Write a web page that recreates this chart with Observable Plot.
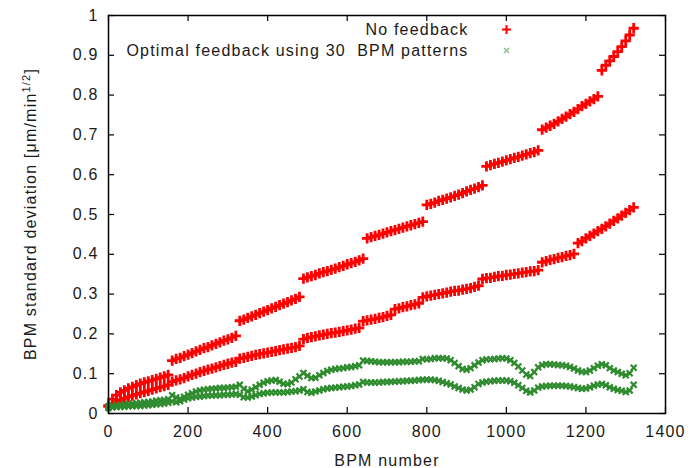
<!DOCTYPE html>
<html>
<head>
<meta charset="utf-8">
<script src="https://cdn.jsdelivr.net/npm/d3@7"></script>
<script src="https://cdn.jsdelivr.net/npm/@observablehq/plot@0.6"></script>
<style>
  body { margin: 0; background: #fff; }
</style>
</head>
<body>
<div id="chart"></div>
<script>
// BPM index along the line (one sample every 10 BPMs)
const bpm = d3.range(0, 1321, 10);

// Orbit standard deviation without feedback (two planes/cases)
const noFbHigh = [
  0.020,0.036,0.046,0.053,0.058,0.063,0.067,0.071,0.075,0.078,
  0.081,0.084,0.087,0.090,0.093,0.097,0.133,0.137,0.140,0.144,
  0.148,0.152,0.156,0.160,0.164,0.167,0.171,0.175,0.179,0.183,
  0.186,0.190,0.195,0.233,0.236,0.240,0.244,0.248,0.252,0.256,
  0.260,0.264,0.268,0.272,0.276,0.280,0.284,0.288,0.293,0.339,
  0.342,0.345,0.348,0.352,0.355,0.358,0.361,0.364,0.368,0.371,
  0.375,0.378,0.381,0.385,0.389,0.440,0.443,0.446,0.449,0.452,
  0.455,0.458,0.461,0.464,0.467,0.470,0.473,0.476,0.479,0.482,
  0.524,0.527,0.530,0.534,0.537,0.540,0.543,0.547,0.550,0.554,
  0.558,0.562,0.565,0.569,0.573,0.621,0.624,0.627,0.630,0.633,
  0.636,0.639,0.642,0.645,0.648,0.651,0.654,0.657,0.661,0.713,
  0.718,0.723,0.728,0.734,0.740,0.746,0.752,0.758,0.765,0.772,
  0.778,0.784,0.790,0.797,0.862,0.875,0.886,0.897,0.909,0.922,
  0.936,0.951,0.968
];
const noFbLow = [
  0.018,0.025,0.030,0.034,0.038,0.042,0.045,0.048,0.051,0.054,
  0.057,0.060,0.063,0.066,0.069,0.072,0.080,0.083,0.086,0.089,
  0.093,0.097,0.100,0.104,0.107,0.110,0.113,0.116,0.119,0.122,
  0.125,0.128,0.130,0.138,0.140,0.142,0.145,0.147,0.149,0.151,
  0.153,0.155,0.157,0.159,0.161,0.163,0.165,0.167,0.170,0.187,
  0.190,0.192,0.194,0.196,0.198,0.200,0.202,0.203,0.205,0.207,
  0.209,0.211,0.213,0.215,0.232,0.234,0.236,0.238,0.240,0.242,
  0.245,0.248,0.262,0.264,0.267,0.269,0.272,0.274,0.277,0.292,
  0.294,0.296,0.298,0.300,0.302,0.304,0.306,0.308,0.309,0.311,
  0.313,0.315,0.318,0.321,0.338,0.340,0.341,0.343,0.345,0.346,
  0.348,0.349,0.351,0.352,0.354,0.355,0.357,0.358,0.360,0.380,
  0.383,0.386,0.388,0.391,0.393,0.396,0.398,0.401,0.428,0.433,
  0.440,0.446,0.452,0.458,0.464,0.470,0.477,0.484,0.490,0.497,
  0.504,0.511,0.518
];

// Orbit standard deviation with optimal feedback (30 BPM patterns)
const optHigh = [
  0.018,0.020,0.021,0.022,0.023,0.024,0.025,0.026,0.027,0.028,
  0.029,0.030,0.032,0.033,0.034,0.036,0.046,0.040,0.037,0.042,
  0.047,0.051,0.055,0.058,0.060,0.061,0.062,0.063,0.064,0.064,
  0.065,0.066,0.067,0.072,0.062,0.056,0.060,0.066,0.072,0.077,
  0.081,0.083,0.084,0.080,0.075,0.074,0.078,0.086,0.093,0.102,
  0.095,0.089,0.090,0.096,0.102,0.107,0.110,0.112,0.113,0.114,
  0.116,0.117,0.119,0.121,0.133,0.132,0.131,0.130,0.129,0.129,
  0.129,0.129,0.129,0.129,0.130,0.130,0.130,0.131,0.131,0.137,
  0.136,0.137,0.139,0.139,0.139,0.138,0.134,0.127,0.119,0.112,
  0.110,0.114,0.121,0.128,0.134,0.136,0.136,0.137,0.138,0.139,
  0.138,0.134,0.127,0.118,0.108,0.098,0.094,0.104,0.116,0.122,
  0.124,0.124,0.123,0.122,0.121,0.120,0.117,0.113,0.108,0.105,
  0.104,0.108,0.114,0.120,0.124,0.121,0.114,0.108,0.104,0.100,
  0.096,0.101,0.115
];
const optLow = [
  0.014,0.015,0.016,0.017,0.017,0.018,0.018,0.019,0.019,0.020,
  0.021,0.022,0.023,0.024,0.025,0.027,0.030,0.028,0.031,0.035,
  0.038,0.040,0.042,0.043,0.044,0.045,0.045,0.046,0.046,0.047,
  0.047,0.048,0.049,0.047,0.041,0.040,0.043,0.046,0.049,0.051,
  0.052,0.053,0.053,0.053,0.053,0.054,0.055,0.056,0.058,0.061,
  0.054,0.052,0.055,0.058,0.061,0.063,0.064,0.065,0.066,0.067,
  0.068,0.069,0.071,0.073,0.079,0.078,0.078,0.078,0.078,0.079,
  0.079,0.080,0.080,0.081,0.081,0.082,0.082,0.083,0.084,0.085,
  0.085,0.085,0.084,0.082,0.079,0.076,0.073,0.068,0.064,0.060,
  0.058,0.060,0.066,0.074,0.078,0.080,0.081,0.082,0.083,0.083,
  0.083,0.081,0.077,0.071,0.064,0.057,0.053,0.058,0.065,0.068,
  0.069,0.070,0.070,0.070,0.070,0.069,0.068,0.066,0.064,0.062,
  0.063,0.066,0.070,0.073,0.074,0.071,0.066,0.062,0.059,0.057,
  0.054,0.058,0.072
];

const xTicks = [0, 200, 400, 600, 800, 1000, 1200, 1400];
const yTicks = [0, 0.1, 0.2, 0.3, 0.4, 0.5, 0.6, 0.7, 0.8, 0.9, 1];
const legendLabels = ["No feedback", "Optimal feedback using 30  BPM patterns"];

const RED = "#ff0000";
const GREEN = "#2e8b2e";

const W = 695, H = 468;
const mL = 108, mR = 30, mT = 15, mB = 55;
const innerW = W - mL - mR, innerH = H - mT - mB;
const tick = 6;

const redRows = bpm.flatMap((b, i) => [
  {bpm: b, v: noFbHigh[i]},
  {bpm: b, v: noFbLow[i]}
]);
const greenRows = bpm.flatMap((b, i) => [
  {bpm: b, v: optHigh[i]},
  {bpm: b, v: optLow[i]}
]);

const redDot = {symbol: "plus", r: 3.4, stroke: RED, strokeWidth: 2.8};
const greenDot = {symbol: "times", r: 2.8, stroke: GREEN, strokeWidth: 2.2};

const chart = Plot.plot({
  width: W,
  height: H,
  marginLeft: mL,
  marginRight: mR,
  marginTop: mT,
  marginBottom: mB,
  style: {
    fontFamily: "'Liberation Sans', Arial, sans-serif",
    fontSize: "16px",
    letterSpacing: "1.2px",
    color: "#1a1a1a",
    background: "#fff"
  },
  x: {domain: [0, 1400], ticks: xTicks, tickSize: 0, tickPadding: 12, tickFormat: d => `${d}`, label: null},
  y: {domain: [0, 1], ticks: yTicks, tickSize: 0, tickPadding: 10, tickFormat: d => `${d}`, label: null},
  marks: [
    Plot.dot(redRows, {x: "bpm", y: "v", ...redDot}),
    Plot.dot(greenRows, {x: "bpm", y: "v", ...greenDot}),
    // inward ticks on all four sides
    Plot.tickX(xTicks, {x: d => d, insetTop: innerH - tick, stroke: "#000", strokeWidth: 1.2}),
    Plot.tickX(xTicks, {x: d => d, insetBottom: innerH - tick, stroke: "#000", strokeWidth: 1.2}),
    Plot.tickY(yTicks, {y: d => d, insetRight: innerW - tick, stroke: "#000", strokeWidth: 1.2}),
    Plot.tickY(yTicks, {y: d => d, insetLeft: innerW - tick, stroke: "#000", strokeWidth: 1.2}),
    Plot.frame({stroke: "#000", strokeWidth: 1.5}),
    // key
    Plot.text([legendLabels[0]], {frameAnchor: "top-right", textAnchor: "end", lineAnchor: "middle", dx: -197, dy: 14, fill: "#1a1a1a"}),
    Plot.text([legendLabels[1]], {frameAnchor: "top-right", textAnchor: "end", lineAnchor: "middle", dx: -197, dy: 35, fill: "#1a1a1a"}),
    Plot.dot([0], {frameAnchor: "top-right", dx: -159, dy: 14, symbol: "plus", r: 3, stroke: RED, strokeWidth: 2}),
    Plot.dot([0], {frameAnchor: "top-right", dx: -159, dy: 35, symbol: "times", r: 2.4, stroke: "#8fbf8f", strokeWidth: 1.5}),
    // x axis title
    Plot.text(["BPM number"], {frameAnchor: "bottom", lineAnchor: "middle", dy: 47, fill: "#1a1a1a"})
  ]
});

const svg = d3.select(chart);

// the feedback curves are drawn slightly soft
svg.selectAll(`g[stroke='${GREEN}']`).style("filter", "blur(0.5px)");

// y axis title with a superscript exponent
const ylab = svg.append("text")
  .attr("transform", `translate(36,${mT + innerH / 2}) rotate(-90)`)
  .attr("text-anchor", "middle")
  .attr("fill", "#1a1a1a");
ylab.append("tspan").text("BPM standard deviation [\u03bcm/min");
ylab.append("tspan").attr("dy", -6).attr("font-size", "11px").text("1/2");
ylab.append("tspan").attr("dy", 6).text("]");

document.getElementById("chart").appendChild(chart);
</script>
</body>
</html>
